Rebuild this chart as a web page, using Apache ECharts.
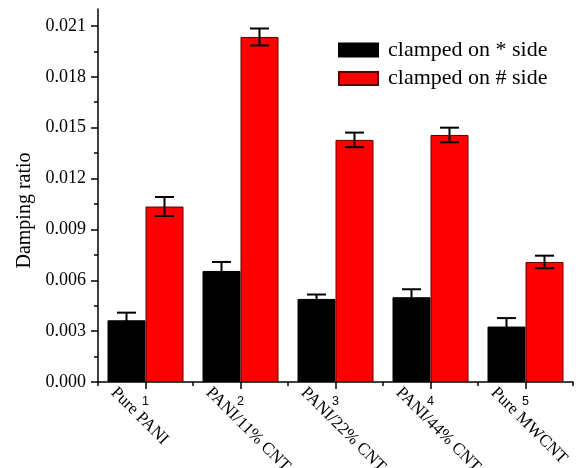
<!DOCTYPE html>
<html>
<head>
<meta charset="utf-8">
<script src="https://cdn.jsdelivr.net/npm/echarts@6/dist/echarts.min.js"></script>
<style>
html,body{margin:0;padding:0;background:#fff;}
#chart{width:578px;height:468px;}
</style>
</head>
<body>
<div id="chart"></div>
<script>
// ---- data ----
var categoryNumbers = ['1', '2', '3', '4', '5'];
var categoryNames = ['Pure PANI', 'PANI/11% CNT', 'PANI/22% CNT', 'PANI/44% CNT', 'Pure MWCNT'];
var seriesNames = ['clamped on * side', 'clamped on # side'];
var starValues = [0.00364, 0.00655, 0.00490, 0.00500, 0.00327];
var starErrors = [0.00045, 0.00053, 0.00026, 0.00047, 0.00050];
var hashValues = [0.01035, 0.02035, 0.01428, 0.01457, 0.00708];
var hashErrors = [0.00056, 0.00050, 0.00043, 0.00043, 0.00037];
var yTicks = [0, 0.003, 0.006, 0.009, 0.012, 0.015, 0.018, 0.021];
var yMax = 0.022;

var yMinorTicks = [];
for (var i = 0; i < yTicks.length; i++) {
  var next = i + 1 < yTicks.length ? yTicks[i + 1] : yTicks[i] + (yTicks[1] - yTicks[0]);
  var mid = (yTicks[i] + next) / 2;
  if (mid < yMax) yMinorTicks.push(mid);
}

var serif = 'Liberation Serif';
var sans = 'Liberation Sans';

function errData(vals, errs) {
  return vals.map(function (v, i) { return [i, v, errs[i]]; });
}
function errRender(side) {
  return function (params, api) {
    var idx = api.value(0), v = api.value(1), e = api.value(2);
    var band = api.size([1, 0])[0];
    var barW = band * 0.4;
    var c = api.coord([idx, v]);
    var x = c[0] + side * barW / 2;
    var top = api.coord([idx, v + e])[1];
    var bot = api.coord([idx, v - e])[1];
    var cap = barW / 4;
    var st = { stroke: '#000', lineWidth: 2 };
    return {
      type: 'group',
      children: [
        { type: 'line', shape: { x1: x, y1: top, x2: x, y2: bot }, style: st },
        { type: 'line', shape: { x1: x - cap, y1: top, x2: x + cap, y2: top }, style: st },
        { type: 'line', shape: { x1: x - cap, y1: bot, x2: x + cap, y2: bot }, style: st }
      ]
    };
  };
}

var chart = echarts.init(document.getElementById('chart'), null, { renderer: 'canvas' });
chart.setOption({
  animation: false,
  backgroundColor: '#fff',
  legend: {
    orient: 'vertical',
    left: 338,
    top: 39,
    padding: 0,
    itemGap: 6.5,
    itemWidth: 39,
    itemHeight: 13,
    icon: 'rect',
    data: seriesNames,
    textStyle: { fontFamily: serif, fontSize: 22, color: '#000', lineHeight: 20, padding: [0, 0, 0, 5] }
  },
  grid: [
    { left: 98, right: 5, top: 9, bottom: 86, outerBoundsMode: 'none' },
    { left: 72, right: 31, top: 9, bottom: 86, outerBoundsMode: 'none' }
  ],
  xAxis: [
    {
      type: 'category', gridIndex: 0, data: categoryNumbers, position: 'bottom',
      axisLine: { show: true, lineStyle: { color: '#000', width: 1.5 } },
      axisTick: { show: true, alignWithLabel: true, length: 7, lineStyle: { color: '#000', width: 1.5 } },
      axisLabel: { fontFamily: sans, fontSize: 12.5, color: '#000', margin: 13 }
    },
    {
      type: 'category', gridIndex: 0, data: categoryNumbers, position: 'bottom',
      axisLine: { show: false },
      axisTick: { show: true, alignWithLabel: false, length: 4, lineStyle: { color: '#000', width: 1.5 } },
      axisLabel: { show: false }
    },
    {
      type: 'category', gridIndex: 1, data: categoryNames, position: 'bottom',
      axisLine: { show: false, onZero: false },
      axisTick: { show: false },
      axisLabel: {
        fontFamily: serif, fontSize: 17, color: '#000', rotate: -45,
        align: 'left', verticalAlign: 'top', margin: 2, interval: 0
      }
    }
  ],
  yAxis: [
    {
      type: 'value', gridIndex: 0, min: 0, max: yMax,
      name: 'Damping ratio', nameLocation: 'middle', nameGap: 62,
      nameTextStyle: { fontFamily: serif, fontSize: 20, color: '#000', padding: [0, 30, 0, 0] },
      axisLine: { show: true, lineStyle: { color: '#000', width: 1.5 } },
      axisTick: { show: true, length: 7, customValues: yTicks, lineStyle: { color: '#000', width: 1.5 } },
      axisLabel: {
        customValues: yTicks, fontFamily: serif, fontSize: 18, color: '#000', margin: 12,
        formatter: function (v) { return v.toFixed(3); }
      },
      splitLine: { show: false }
    },
    {
      type: 'value', gridIndex: 0, min: 0, max: yMax, position: 'left',
      axisLine: { show: false },
      axisTick: { show: true, length: 4, customValues: yMinorTicks, lineStyle: { color: '#000', width: 1.5 } },
      axisLabel: { show: false },
      splitLine: { show: false }
    },
    { type: 'value', gridIndex: 1, show: false, min: 0, max: yMax }
  ],
  series: [
    {
      name: seriesNames[0], type: 'bar', xAxisIndex: 0, yAxisIndex: 0,
      data: starValues, barGap: '0%', barCategoryGap: '20%',
      itemStyle: { color: '#000', borderColor: '#000', borderWidth: 1 }
    },
    {
      name: seriesNames[1], type: 'bar', xAxisIndex: 0, yAxisIndex: 0,
      data: hashValues, barGap: '0%', barCategoryGap: '20%',
      itemStyle: { color: '#ff0000', borderColor: '#5a0000', borderWidth: 1 }
    },
    {
      type: 'custom', xAxisIndex: 0, yAxisIndex: 0, z: 5,
      data: errData(starValues, starErrors), renderItem: errRender(-1),
      encode: { x: 0, y: 1 }
    },
    {
      type: 'custom', xAxisIndex: 0, yAxisIndex: 0, z: 5,
      data: errData(hashValues, hashErrors), renderItem: errRender(1),
      encode: { x: 0, y: 1 }
    }
  ]
});
</script>
</body>
</html>
